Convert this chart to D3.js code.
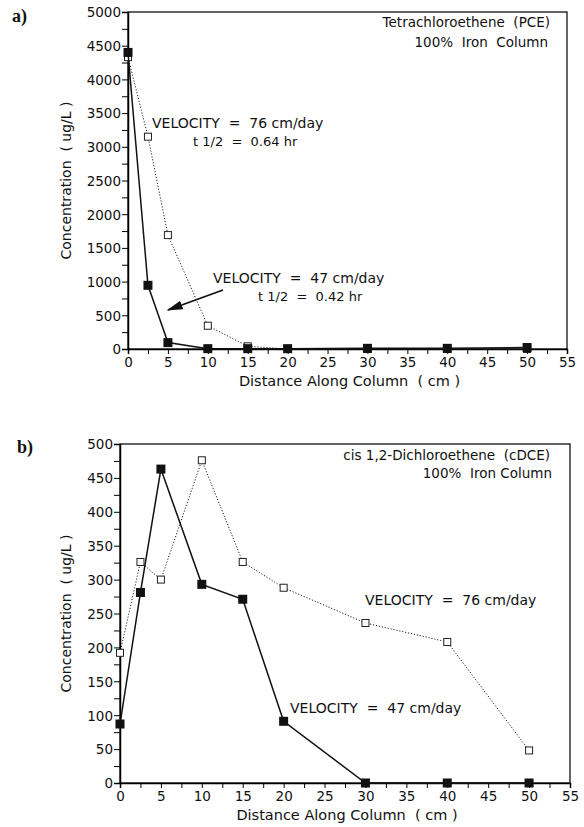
<!DOCTYPE html>
<html>
<head>
<meta charset="utf-8">
<script src="https://cdn.jsdelivr.net/npm/d3@7"></script>
<style>
  body { margin: 0; background: #fff; }
  text { font-family: "DejaVu Sans", sans-serif; fill: #111; }
</style>
</head>
<body>
<script>
// distance along column (cm)
var distance = [0, 2.5, 5, 10, 15, 20, 30, 40, 50];
// a) PCE, ug/L
var pce47 = [4400, 945, 95, 5, 5, 5, 10, 10, 22];
var pce76 = [4330, 3150, 1690, 345, 40, 0, 0, 0, 0];
// b) cDCE, ug/L
var dce47 = [87, 281, 463, 293, 271, 91, 0, 0, 0];
var dce76 = [192, 326, 300, 476, 326, 288, 236, 208, 48];

var xTicks = d3.range(0, 55.01, 2.5);

var svg = d3.select("body").append("svg")
    .attr("width", 584)
    .attr("height", 827);

function panel(opt) {
    var g = svg.append("g")
        .attr("transform", "translate(" + opt.left + "," + opt.top + ")");

    var x = d3.scaleLinear().domain([0, 55]).range([0, opt.width]);
    var y = d3.scaleLinear().domain([0, opt.ymax]).range([opt.height, 0]);

    // frame
    g.append("rect")
        .attr("width", opt.width)
        .attr("height", opt.height)
        .attr("fill", "none")
        .attr("stroke", "#111")
        .attr("stroke-width", 1.3);

    // x axis
    var xa = g.append("g")
        .attr("transform", "translate(0," + opt.height + ")")
        .call(d3.axisBottom(x).tickValues(xTicks).tickSize(5)
            .tickFormat(d => (d % 5 === 0 ? d : "")));
    xa.select(".domain").attr("stroke-width", 1.5);
    xa.selectAll("text").attr("font-size", 13.5).attr("y", 18).attr("dy", 0);

    // y axis
    var ya = g.append("g")
        .call(d3.axisLeft(y).tickValues(d3.range(0, opt.ymax + 0.1, opt.ystep / 2))
            .tickSize(6).tickPadding(1)
            .tickFormat(d => (d % opt.ystep === 0 ? d : "")));
    ya.select(".domain").attr("stroke-width", 1.5);
    ya.selectAll("text").attr("font-size", 13.5).attr("dy", "0.36em");

    // axis titles
    g.append("text")
        .attr("transform", "translate(" + (opt.ylabX) + "," + (opt.height / 2) + ") rotate(-90)")
        .attr("text-anchor", "middle")
        .attr("font-size", 14)
        .style("white-space", "pre")
        .text("Concentration  ( ug/L )");

    g.append("text")
        .attr("x", x(27.5) + 2)
        .attr("y", opt.height + 37)
        .attr("text-anchor", "middle")
        .attr("font-size", 14.5)
        .style("white-space", "pre")
        .text("Distance Along Column  ( cm )");

    var line = d3.line()
        .x(function (d) { return x(d[0]); })
        .y(function (d) { return y(d[1]); });

    var s76 = distance.map((d, i) => [d, opt.v76[i]]);
    var s47 = distance.map((d, i) => [d, opt.v47[i]]);

    g.append("path")
        .datum(s76)
        .attr("d", line)
        .attr("fill", "none")
        .attr("stroke", "#222")
        .attr("stroke-width", 1)
        .attr("stroke-dasharray", "1.2,1.8");

    g.append("g").selectAll("rect")
        .data(s76)
        .enter().append("rect")
        .attr("x", d => x(d[0]) - 3.5)
        .attr("y", d => y(d[1]) - 3.5)
        .attr("width", 7)
        .attr("height", 7)
        .attr("fill", "#fff")
        .attr("stroke", "#222")
        .attr("stroke-width", 1);

    g.append("path")
        .datum(s47)
        .attr("d", line)
        .attr("fill", "none")
        .attr("stroke", "#111")
        .attr("stroke-width", 1.5);

    g.append("g").selectAll("rect")
        .data(s47)
        .enter().append("rect")
        .attr("x", d => x(d[0]) - 4.5)
        .attr("y", d => y(d[1]) - 4.5)
        .attr("width", 9)
        .attr("height", 9)
        .attr("fill", "#111");

    return { g: g, x: x, y: y };
}

// panel a
panel({
    left: 128, top: 12, width: 439, height: 337,
    ymax: 5000, ystep: 500, ylabX: -57,
    v47: pce47, v76: pce76
});

// panel b
panel({
    left: 120, top: 444, width: 450, height: 339,
    ymax: 500, ystep: 50, ylabX: -49,
    v47: dce47, v76: dce76
});

// panel letters
svg.append("text").attr("x", 12).attr("y", 22)
    .style("font-family", "'Liberation Serif', serif")
    .attr("font-weight", "bold")
    .attr("font-size", 18).text("a)");
svg.append("text").attr("x", 17).attr("y", 453)
    .style("font-family", "'Liberation Serif', serif")
    .attr("font-weight", "bold")
    .attr("font-size", 18).text("b)");

function label(x, y, txt, anchor, size) {
    svg.append("text")
        .attr("x", x).attr("y", y)
        .attr("text-anchor", anchor || "start")
        .attr("font-size", size || 12)
        .style("white-space", "pre")
        .text(txt);
}

// annotations a
label(550, 27, "Tetrachloroethene  (PCE)", "end", 13.5);
label(548, 47, "100%  Iron  Column", "end", 13.5);
label(152, 128, "VELOCITY  =  76 cm/day", "start", 14);
label(193, 146, "t 1/2  =  0.64 hr", "start", 13);
label(213, 283, "VELOCITY  =  47 cm/day", "start", 14);
label(258, 301, "t 1/2  =  0.42 hr", "start", 13);

// arrow to the 47 cm/day curve
svg.append("defs").append("marker")
    .attr("id", "head")
    .attr("viewBox", "0 0 10 10")
    .attr("refX", 9).attr("refY", 5)
    .attr("markerWidth", 9).attr("markerHeight", 5)
    .attr("markerUnits", "strokeWidth")
    .attr("orient", "auto")
    .attr("preserveAspectRatio", "none")
    .append("path").attr("d", "M0,0L10,5L0,10z").attr("fill", "#111");
svg.append("line")
    .attr("x1", 223).attr("y1", 290)
    .attr("x2", 168).attr("y2", 310)
    .attr("stroke", "#111")
    .attr("stroke-width", 1.8)
    .attr("marker-end", "url(#head)");

// annotations b
label(550, 460, "cis 1,2-Dichloroethene  (cDCE)", "end", 13.5);
label(552, 478, "100%  Iron Column", "end", 13.5);
label(365, 605, "VELOCITY  =  76 cm/day", "start", 14);
label(290, 713, "VELOCITY  =  47 cm/day", "start", 14);
</script>
</body>
</html>
